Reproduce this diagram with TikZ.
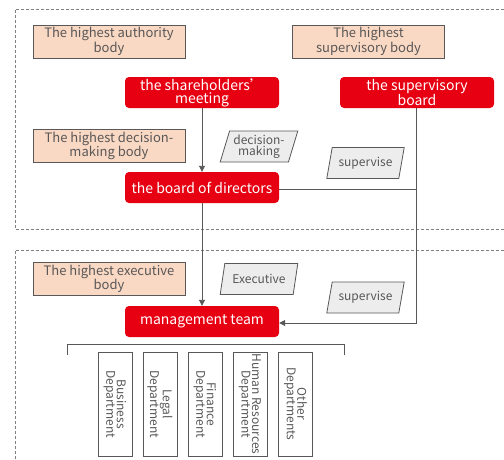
\documentclass[tikz,border=0pt]{standalone}
\usepackage{fontspec}
\setmainfont{Noto Sans CJK SC}
\usetikzlibrary{arrows.meta,shapes.geometric}
\definecolor{bred}{HTML}{E60012}
\definecolor{peach}{HTML}{FAD9C4}
\definecolor{txtgray}{HTML}{595757}
\definecolor{lgray}{HTML}{EDEDED}
\definecolor{lcol}{HTML}{595757}
\tikzset{
  redbox/.style={fill=bred, rounded corners=4pt, text=white, minimum width=154pt, minimum height=31pt, align=center, inner sep=1pt, font=\fontsize{14}{13}\selectfont},
  peachbox/.style={fill=peach, draw=lcol, line width=0.8pt, text=txtgray, minimum width=152pt, minimum height=33pt, align=center, inner sep=1pt, font=\fontsize{13}{12}\selectfont},
  para/.style={trapezium, trapezium left angle=72, trapezium right angle=108, fill=lgray, draw=lcol, line width=0.8pt, text=txtgray, minimum height=31pt, minimum width=78pt, align=center, inner sep=1pt, trapezium stretches=true, font=\fontsize{12}{11.5}\selectfont},
  deptbox/.style={draw=lcol, line width=0.8pt, minimum width=34pt, minimum height=104pt, inner sep=0pt},
  depttext/.style={rotate=-90, text=txtgray, align=center, font=\fontsize{12}{10.5}\selectfont},
  conn/.style={draw=lcol, line width=0.9pt},
  arr/.style={conn, -{Triangle[length=6pt,width=6pt]}},
  region/.style={draw=gray, line width=0.6pt, dash pattern=on 3pt off 2pt},
}
\begin{document}
\begin{tikzpicture}[x=1pt,y=-1pt]
\useasboundingbox (0,0) rectangle (504,459);
% dashed regions
\draw[region] (504,9) -- (15,9) -- (15,229) -- (504,229);
\draw[region] (504,250) -- (15,250) -- (15,462);
% peach labels
\node[peachbox] (pa) at (109,41.5) {The highest authority\\body};
\node[peachbox] (ps) at (368.5,41.5) {The highest\\supervisory body};
\node[peachbox] (pd) at (109,146) {The highest decision-\\making body};
\node[peachbox] (pe) at (109,279) {The highest executive\\body};
% red boxes
\node[redbox] (sh) at (202,92.5) {the shareholders'\\meeting};
\node[redbox] (sb) at (417,92.5) {the supervisory\\board};
\node[redbox] (bd) at (202,187.5) {the board of directors};
\node[redbox] (mt) at (202,321.5) {management team};
% parallelograms
\node[para] (dm) at (259,146.5) {decision-\\making};
\node[para] (sv1) at (365.5,163) {supervise};
\node[para] (ex) at (259,279) {Executive};
\node[para] (sv2) at (365.5,297.5) {supervise};
% connectors
\draw[arr] (sh.south) -- (bd.north);
\draw[arr] (bd.south) -- (mt.north);
\coordinate (c1) at (416,323);
\coordinate (c2) at (416,189);
\draw[arr] (sb.south -| c1) -- (c1) -- (mt.east |- c1);
\draw[conn] (bd.east |- c2) -- (c2);
% bracket
\coordinate (bl) at (67,355);
\coordinate (br) at (344,355);
\draw[conn] (bl) -- (67,344.5) -- (344,344.5) -- (br);
% departments
\foreach \i/\x/\t in {d1/115/{Business\\Department}, d2/160/{Legal\\Department}, d3/205/{Finance\\Department}, d4/250/{Human Resources\\Department}, d5/295.5/{Other\\Departments}}{
  \node[deptbox] (\i) at (\x,404) {};
  \node[depttext] (\i t) at (\i) {\t};
}
\end{tikzpicture}
\end{document}
